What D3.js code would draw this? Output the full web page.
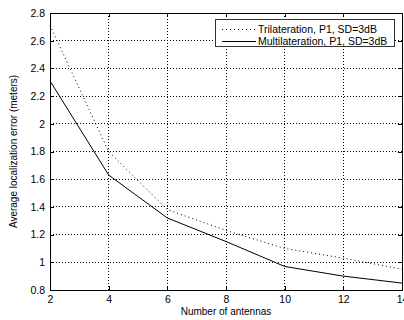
<!DOCTYPE html>
<html>
<head>
<meta charset="utf-8">
<script src="https://cdn.jsdelivr.net/npm/d3@7"></script>
<style>
  body { margin: 0; background: #fff; }
  svg { display: block; font-family: "Liberation Sans", Arial, sans-serif; }
</style>
</head>
<body>
<svg id="chart" width="404" height="320"></svg>
<script>
const antennas = [2, 4, 6, 8, 10, 12, 14];
const trilateration = [2.71, 1.80, 1.38, 1.23, 1.10, 1.03, 0.95];
const multilateration = [2.31, 1.63, 1.32, 1.15, 0.97, 0.90, 0.85];
const xTicks = [2, 4, 6, 8, 10, 12, 14];
const yTicks = [0.8, 1, 1.2, 1.4, 1.6, 1.8, 2, 2.2, 2.4, 2.6, 2.8];
const legendLabels = ["Trilateration, P1, SD=3dB", "Multilateration, P1, SD=3dB"];

const svg = d3.select("#chart");
const plotLeft = 50, plotRight = 402, plotTop = 13, plotBottom = 290;

const x = d3.scaleLinear().domain([2, 14]).range([plotLeft, plotRight]);
const y = d3.scaleLinear().domain([0.8, 2.8]).range([plotBottom, plotTop]);

// grid
const grid = svg.append("g");
grid.selectAll("line.vx")
  .data(xTicks.slice(1, -1))
  .join("line")
  .attr("x1", d => x(d)).attr("x2", d => x(d))
  .attr("y1", plotTop).attr("y2", plotBottom)
  .attr("stroke", "#000").attr("stroke-width", 1)
  .attr("stroke-dasharray", "1,2")
  .attr("shape-rendering", "crispEdges");
grid.selectAll("line.hy")
  .data(yTicks.slice(1, -1))
  .join("line")
  .attr("x1", plotLeft).attr("x2", plotRight)
  .attr("y1", d => y(d)).attr("y2", d => y(d))
  .attr("stroke", "#000").attr("stroke-width", 1)
  .attr("stroke-dasharray", "1,2")
  .attr("shape-rendering", "crispEdges");

// axes
const xAxis = d3.axisBottom(x).tickValues(xTicks).tickSize(-4).tickPadding(6).tickFormat(d3.format("d"));
const yAxis = d3.axisLeft(y).tickValues(yTicks).tickSize(-4).tickPadding(5).tickFormat(d => String(+d.toFixed(1)));

svg.append("g").attr("transform", `translate(0,${plotBottom})`).call(xAxis);
svg.append("g").attr("transform", `translate(${plotLeft},0)`).call(yAxis);
// top / right ticks
svg.append("g").attr("transform", `translate(0,${plotTop})`)
  .call(d3.axisTop(x).tickValues(xTicks).tickSize(-4).tickFormat(""));
svg.append("g").attr("transform", `translate(${plotRight},0)`)
  .call(d3.axisRight(y).tickValues(yTicks).tickSize(-4).tickFormat(""));

svg.selectAll(".domain").remove();
svg.selectAll(".tick line").attr("stroke", "#000").attr("shape-rendering", "crispEdges");
svg.selectAll(".tick text").attr("font-size", 10.5).attr("fill", "#000")
  .attr("font-family", "'Liberation Sans', Arial, sans-serif");

svg.append("rect")
  .attr("x", plotLeft).attr("y", plotTop)
  .attr("width", plotRight - plotLeft).attr("height", plotBottom - plotTop)
  .attr("fill", "none").attr("stroke", "#000").attr("stroke-width", 1)
  .attr("shape-rendering", "crispEdges");

// lines
const line = d3.line().x((d, i) => x(antennas[i])).y(d => y(d));
svg.append("path").datum(trilateration)
  .attr("d", line).attr("fill", "none")
  .attr("stroke", "#000").attr("stroke-width", 1)
  .attr("stroke-dasharray", "1,3");
svg.append("path").datum(multilateration)
  .attr("d", line).attr("fill", "none")
  .attr("stroke", "#000").attr("stroke-width", 1);

// legend
const lg = svg.append("g");
lg.append("rect")
  .attr("x", 215.5).attr("y", 19.5).attr("width", 179).attr("height", 27)
  .attr("fill", "#fff").attr("stroke", "#333").attr("stroke-width", 1);
const dashes = ["1,3", null];
legendLabels.forEach((label, i) => {
  const yy = 29 + i * 12;
  lg.append("line")
    .attr("x1", 222).attr("x2", 256).attr("y1", yy + 0.5).attr("y2", yy + 0.5)
    .attr("stroke", "#000").attr("stroke-width", 1)
    .attr("stroke-dasharray", dashes[i]);
  lg.append("text")
    .attr("x", 258).attr("y", yy).attr("dy", "0.35em")
    .attr("font-size", 10.5).attr("fill", "#000")
    .text(label);
});

// axis titles
svg.append("text")
  .attr("x", (plotLeft + plotRight) / 2).attr("y", 315)
  .attr("text-anchor", "middle").attr("font-size", 10).attr("fill", "#000")
  .text("Number of antennas");
svg.append("text")
  .attr("transform", `translate(17,${(plotTop + plotBottom) / 2}) rotate(-90)`)
  .attr("text-anchor", "middle").attr("font-size", 10).attr("fill", "#000")
  .text("Average localization error (meters)");
</script>
</body>
</html>
